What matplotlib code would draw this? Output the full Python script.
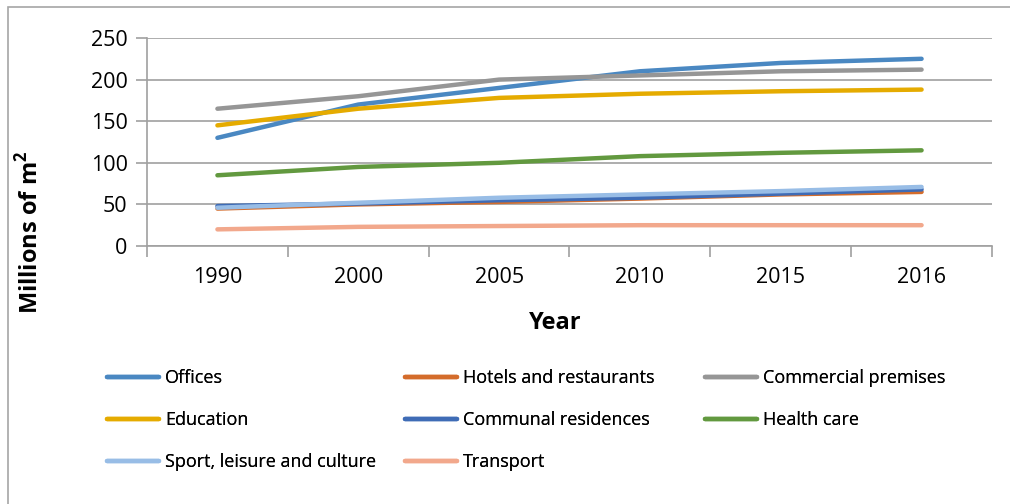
import matplotlib.pyplot as plt
from matplotlib.patches import Rectangle
from matplotlib.lines import Line2D

plt.rcParams['font.family'] = ['Open Sans', 'DejaVu Sans']

years = ['1990', '2000', '2005', '2010', '2015', '2016']

offices = [130, 170, 190, 210, 220, 225]
hotels = [45, 50, 53, 57, 62, 65]
commercial = [165, 180, 200, 205, 210, 212]
education = [145, 165, 178, 183, 186, 188]
communal = [48, 51, 55, 58, 63, 68]
health = [85, 95, 100, 108, 112, 115]
sport = [46, 52, 58, 62, 66, 71]
transport = [20, 23, 24, 25, 25, 25]

# (label, values, colour) in the order series get drawn
series = [
    ('Offices', offices, '#4a88c2'),
    ('Hotels and restaurants', hotels, '#d46c2b'),
    ('Commercial premises', commercial, '#969696'),
    ('Education', education, '#e5ab00'),
    ('Communal residences', communal, '#3f6cb6'),
    ('Health care', health, '#62993f'),
    ('Sport, leisure and culture', sport, '#98bde6'),
    ('Transport', transport, '#f2a88c'),
]

W, H = 1010, 504
fig = plt.figure(figsize=(W / 100, H / 100), dpi=100)

# chart border
fig.patches.append(Rectangle((8 / W, -0.1), 1.2, 1 - 7 / H + 0.1, transform=fig.transFigure,
                             fill=False, edgecolor='#a6a6a6', linewidth=1.2))

left, right, top, bottom = 147, 992, 38, 246
ax = fig.add_axes([left / W, 1 - bottom / H, (right - left) / W, (bottom - top) / H])

x = list(range(len(years)))
for name, vals, col in series:
    ax.plot(x, vals, color=col, linewidth=3.2, solid_capstyle='round', label=name)

ax.set_xlim(-0.5, len(years) - 0.5)
ax.set_ylim(0, 250)
ax.set_yticks(range(0, 251, 50))
ax.set_xticks(x)
ax.set_xticklabels(years)
ax.set_xticks([i - 0.5 for i in range(len(years) + 1)], minor=True)

ax.grid(axis='y', color='#a0a0a0', linewidth=1.2)
ax.set_axisbelow(True)
for s in ['top', 'right']:
    ax.spines[s].set_visible(False)
for s in ['left', 'bottom']:
    ax.spines[s].set_color('#a0a0a0')
    ax.spines[s].set_linewidth(1.2)

ax.tick_params(axis='y', length=8, width=1.2, color='#a0a0a0', labelsize=15.5, pad=6)
ax.tick_params(axis='x', which='major', length=0, labelsize=15.5, pad=15)
ax.tick_params(axis='x', which='minor', length=8, width=1.2, color='#a0a0a0')

ax.set_ylabel('Millions of m$^\\mathregular{2}$', fontsize=17, fontweight='bold')
ax.yaxis.set_label_coords((44 - left) / (right - left), (bottom - 232) / (bottom - top))
ax.set_xlabel('Year', fontsize=17, fontweight='bold')
ax.xaxis.set_label_coords((555 - left) / (right - left), (bottom - 311) / (bottom - top))

# legend laid out in three fixed columns
handles = {name: Line2D([], [], color=col, linewidth=3.2, solid_capstyle='round')
           for name, vals, col in series}
columns = [
    (107, ['Offices', 'Education', 'Sport, leisure and culture']),
    (405, ['Hotels and restaurants', 'Communal residences', 'Transport']),
    (705, ['Commercial premises', 'Health care']),
]
for xpos, names in columns:
    leg = fig.legend([handles[n] for n in names], names, loc='upper left',
                     bbox_to_anchor=(xpos / W, 1 - 369 / H), frameon=False,
                     fontsize=13, handlelength=2.9, handletextpad=0.3,
                     labelspacing=1.33, borderpad=0, borderaxespad=0)
    fig.add_artist(leg)

fig.savefig('out.png', dpi=100)
